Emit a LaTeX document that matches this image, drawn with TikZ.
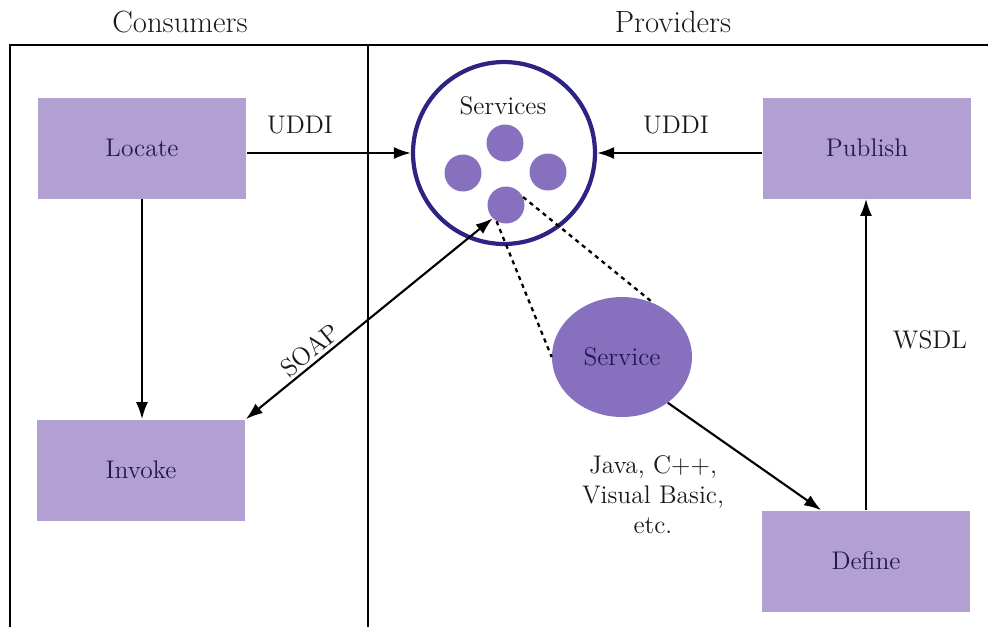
\documentclass[tikz,border=0pt]{standalone}
\usepackage{tikz}
\usetikzlibrary{arrows.meta,positioning,shapes.geometric,calc}

\definecolor{boxfill}{RGB}{178,160,210}
\definecolor{dotfill}{RGB}{135,112,190}
\definecolor{ringblue}{RGB}{45,35,130}
\definecolor{labelnavy}{RGB}{35,25,80}

\begin{document}
\begin{tikzpicture}[x=0.02cm, y=-0.02cm,
  font=\fontsize{14.5}{17}\selectfont,
  actbox/.style={rectangle, fill=boxfill, text=labelnavy, inner sep=0pt,
                 minimum width=4.18cm, minimum height=2.02cm},
  pool/.style  ={circle, draw=ringblue, line width=2.4pt, inner sep=0pt,
                 minimum size=3.64cm},
  svcdot/.style={circle, fill=dotfill, inner sep=0pt, minimum size=0.74cm},
  svc/.style   ={ellipse, fill=dotfill, text=labelnavy, inner sep=0pt,
                 minimum width=2.8cm, minimum height=2.4cm},
  flow/.style  ={-{Latex[length=3.4mm,width=2.4mm]}, line width=1.2pt},
  both/.style  ={{Latex[length=3.4mm,width=2.4mm]}-{Latex[length=3.4mm,width=2.4mm]},
                 line width=1.2pt},
  zoomline/.style={dash pattern=on 2.4pt off 2.4pt, line width=1.3pt},
  lbl/.style   ={text=black!90},
  head/.style  ={text=black!90, font=\fontsize{17.5}{20}\selectfont},
]
\useasboundingbox (0,0) rectangle (988,627);

% === Frame ===
\draw[line width=1.1pt] (10,627) -- (10,45) -- (988,45);
\draw[line width=1.1pt] (368,45) -- (368,627);
\node[head] (hcons) at (180,22) {Consumers};
\node[head] (hprov) at (673,22) {Providers};

% === Consumers ===
\node[actbox] (locate) at (142,148) {Locate};
\node[actbox] (invoke) at (141,470) {Invoke};

% === Providers ===
\node[actbox] (publish) at (867,148) {Publish};
\node[actbox] (define)  at (866,561) {Define};

\node[pool] (services) at (504,153) {};
\node[lbl] (svclabel) at (503,106) {Services};
\node[svcdot] (s1) at (505,143) {};
\node[svcdot] (s2) at (463,173) {};
\node[svcdot] (s3) at (548,172) {};
\node[svcdot] (s4) at (506,205) {};

\node[svc] (service) at (622,357) {Service};

% === Connectors ===
\draw[flow] (locate.east |- services.west) -- (services.west);
\draw[flow] (publish.west |- services.east) -- (services.east);
\draw[flow] (locate) -- (locate |- invoke.north);
\draw[both] (invoke.north east) -- (s4.225);
\draw[zoomline] (s4.240) -- (service.west);
\draw[zoomline] (s4.25) -- (service.60);
\draw[flow] (service.-45) -- ([xshift=1.2cm]define.north west);
\draw[flow] (define) -- (define |- publish.south);

% === Labels ===
\node[lbl] (uddil) at (300,125) {UDDI};
\node[lbl] (uddir) at (676,125) {UDDI};
\node[lbl, rotate=39, inner sep=1pt] (soap) at (310,350) {SOAP};
\node[lbl] (wsdl) at (930,340) {WSDL};
\node[lbl, align=center] (langs) at (653,495) {Java, C++,\\Visual Basic,\\etc.};

\end{tikzpicture}
\end{document}
